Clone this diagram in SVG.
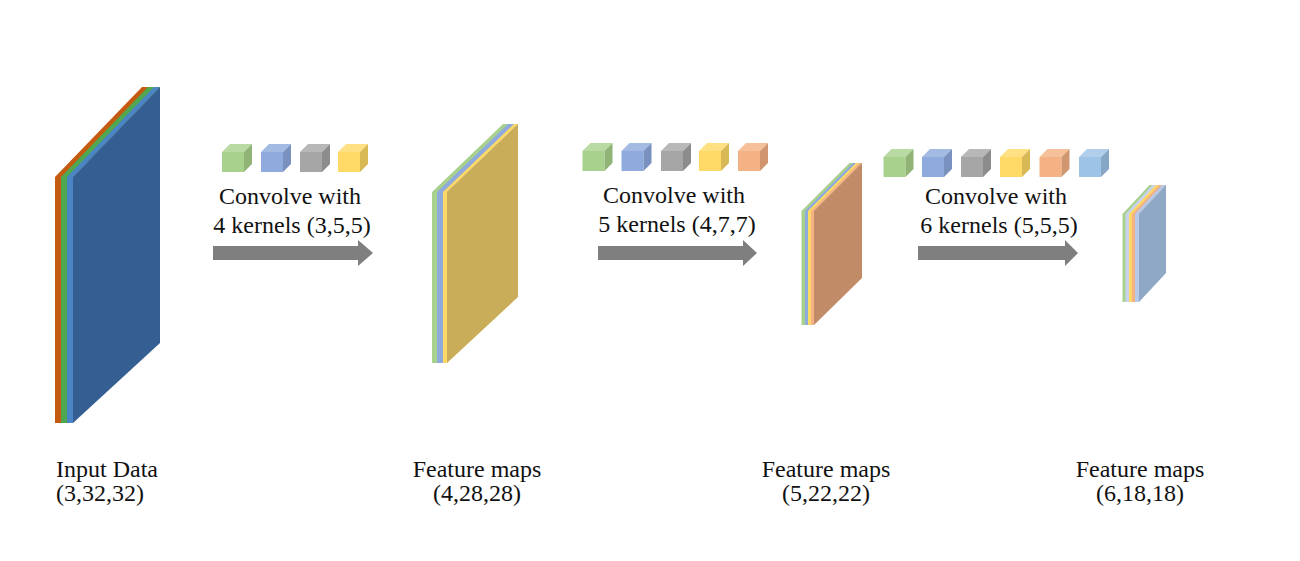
<svg xmlns="http://www.w3.org/2000/svg" width="1300" height="561" viewBox="0 0 1300 561">
<style>
text{font-family:"Liberation Serif","Times New Roman",serif;font-size:24px;fill:#111}
.mid{text-anchor:middle}
.arrow{fill:#7F7F7F}
.green .f{fill:#A9D18E}.green .t{fill:#B9DAA2}.green .s{fill:#8FB476}
.blue .f{fill:#8FAADC}.blue .t{fill:#A3BAE3}.blue .s{fill:#7891BE}
.gray .f{fill:#A6A6A6}.gray .t{fill:#B8B8B8}.gray .s{fill:#8C8C8C}
.yellow .f{fill:#FFD966}.yellow .t{fill:#FFE184}.yellow .s{fill:#D9B955}
.orange .f{fill:#F4B183}.orange .t{fill:#F6C09A}.orange .s{fill:#CF966F}
.lblue .f{fill:#9DC3E6}.lblue .t{fill:#B1CFEB}.lblue .s{fill:#85A6C4}
</style>
<rect width="1300" height="561" fill="#fff"/>

<g id="input-data">
<polygon points="55,423 55,177 142,87 160,87 73,177 73,423" fill="#C55A11"/>
<polygon points="61,423 61,177 148,87 160,87 73,177 73,423" fill="#4FA84F"/>
<polygon points="67,423 67,177 154,87 160,87 73,177 73,423" fill="#4A86C5"/>
<polygon points="73,177 160,87 160,343 73,423" fill="#355F92"/>
<text x="56" y="477">Input Data</text>
<text x="56" y="501">(3,32,32)</text>
</g>

<g id="feature-maps-1">
<polygon points="432,363 432,192 503,124 518,124 447,192 447,363" fill="#A9D18E"/>
<polygon points="437,363 437,192 508,124 518,124 447,192 447,363" fill="#8FAADC"/>
<polygon points="443,363 443,192 514,124 518,124 447,192 447,363" fill="#FFD966"/>
<polygon points="447,192 518,124 518,297 447,363" fill="#C9AD58"/>
<text class="mid" x="477" y="477">Feature maps</text>
<text class="mid" x="477" y="501">(4,28,28)</text>
</g>

<g id="feature-maps-2">
<polygon points="801.5,325 801.5,211 849.5,163 862,163 814,211 814,325" fill="#A9D18E"/>
<polygon points="805,325 805,211 853,163 862,163 814,211 814,325" fill="#8FAADC"/>
<polygon points="808,325 808,211 856,163 862,163 814,211 814,325" fill="#FFD966"/>
<polygon points="811,325 811,211 859,163 862,163 814,211 814,325" fill="#F4B183"/>
<polygon points="814,211 862,163 862,278 814,325" fill="#C28B68"/>
<text class="mid" x="826" y="477">Feature maps</text>
<text class="mid" x="826" y="501">(5,22,22)</text>
</g>

<g id="feature-maps-3">
<polygon points="1122.5,302 1122.5,214 1149.5,185 1166,185 1139,214 1139,302" fill="#A9D18E"/>
<polygon points="1125.5,302 1125.5,214 1152.5,185 1166,185 1139,214 1139,302" fill="#C9D3EE"/>
<polygon points="1129,302 1129,214 1156,185 1166,185 1139,214 1139,302" fill="#FFD966"/>
<polygon points="1132,302 1132,214 1159,185 1166,185 1139,214 1139,302" fill="#F4B183"/>
<polygon points="1135,302 1135,214 1162,185 1166,185 1139,214 1139,302" fill="#B7C9E8"/>
<polygon points="1139,214 1166,185 1166,273 1139,302" fill="#8EA8C6"/>
<text class="mid" x="1140" y="477">Feature maps</text>
<text class="mid" x="1140" y="501">(6,18,18)</text>
</g>

<g id="kernels-1">
<g class="green" transform="translate(222,152)"><path class="f" d="M0 0h22v20h-22z"/><path class="t" d="M0 0l8-8h22l-8 8z"/><path class="s" d="M22 0l8-8v20l-8 8z"/></g>
<g class="blue" transform="translate(261,152)"><path class="f" d="M0 0h22v20h-22z"/><path class="t" d="M0 0l8-8h22l-8 8z"/><path class="s" d="M22 0l8-8v20l-8 8z"/></g>
<g class="gray" transform="translate(300,152)"><path class="f" d="M0 0h22v20h-22z"/><path class="t" d="M0 0l8-8h22l-8 8z"/><path class="s" d="M22 0l8-8v20l-8 8z"/></g>
<g class="yellow" transform="translate(338,152)"><path class="f" d="M0 0h22v20h-22z"/><path class="t" d="M0 0l8-8h22l-8 8z"/><path class="s" d="M22 0l8-8v20l-8 8z"/></g>
<text class="mid" x="290" y="204">Convolve with</text>
<text class="mid" x="292" y="233">4 kernels (3,5,5)</text>
</g>

<g id="kernels-2">
<g class="green" transform="translate(582.5,151)"><path class="f" d="M0 0h22v20h-22z"/><path class="t" d="M0 0l8-8h22l-8 8z"/><path class="s" d="M22 0l8-8v20l-8 8z"/></g>
<g class="blue" transform="translate(621.5,151)"><path class="f" d="M0 0h22v20h-22z"/><path class="t" d="M0 0l8-8h22l-8 8z"/><path class="s" d="M22 0l8-8v20l-8 8z"/></g>
<g class="gray" transform="translate(661,151)"><path class="f" d="M0 0h22v20h-22z"/><path class="t" d="M0 0l8-8h22l-8 8z"/><path class="s" d="M22 0l8-8v20l-8 8z"/></g>
<g class="yellow" transform="translate(699,151)"><path class="f" d="M0 0h22v20h-22z"/><path class="t" d="M0 0l8-8h22l-8 8z"/><path class="s" d="M22 0l8-8v20l-8 8z"/></g>
<g class="orange" transform="translate(738,151)"><path class="f" d="M0 0h22v20h-22z"/><path class="t" d="M0 0l8-8h22l-8 8z"/><path class="s" d="M22 0l8-8v20l-8 8z"/></g>
<text class="mid" x="674" y="203">Convolve with</text>
<text class="mid" x="677" y="232">5 kernels (4,7,7)</text>
</g>

<g id="kernels-3">
<g class="green" transform="translate(883.5,157)"><path class="f" d="M0 0h22v20h-22z"/><path class="t" d="M0 0l8-8h22l-8 8z"/><path class="s" d="M22 0l8-8v20l-8 8z"/></g>
<g class="blue" transform="translate(922,157)"><path class="f" d="M0 0h22v20h-22z"/><path class="t" d="M0 0l8-8h22l-8 8z"/><path class="s" d="M22 0l8-8v20l-8 8z"/></g>
<g class="gray" transform="translate(961,157)"><path class="f" d="M0 0h22v20h-22z"/><path class="t" d="M0 0l8-8h22l-8 8z"/><path class="s" d="M22 0l8-8v20l-8 8z"/></g>
<g class="yellow" transform="translate(1000,157)"><path class="f" d="M0 0h22v20h-22z"/><path class="t" d="M0 0l8-8h22l-8 8z"/><path class="s" d="M22 0l8-8v20l-8 8z"/></g>
<g class="orange" transform="translate(1039.5,157)"><path class="f" d="M0 0h22v20h-22z"/><path class="t" d="M0 0l8-8h22l-8 8z"/><path class="s" d="M22 0l8-8v20l-8 8z"/></g>
<g class="lblue" transform="translate(1079,157)"><path class="f" d="M0 0h22v20h-22z"/><path class="t" d="M0 0l8-8h22l-8 8z"/><path class="s" d="M22 0l8-8v20l-8 8z"/></g>
<text class="mid" x="996" y="204">Convolve with</text>
<text class="mid" x="999" y="233">6 kernels (5,5,5)</text>
</g>

<g id="connectors">
<polygon class="arrow" points="213,246 358,246 358,240 373,253 358,266 358,260 213,260"/>
<polygon class="arrow" points="598,246 743,246 743,240 757,253 743,266 743,260 598,260"/>
<polygon class="arrow" points="918,246 1065,246 1065,240 1078,253 1065,266 1065,260 918,260"/>
</g>
</svg>
